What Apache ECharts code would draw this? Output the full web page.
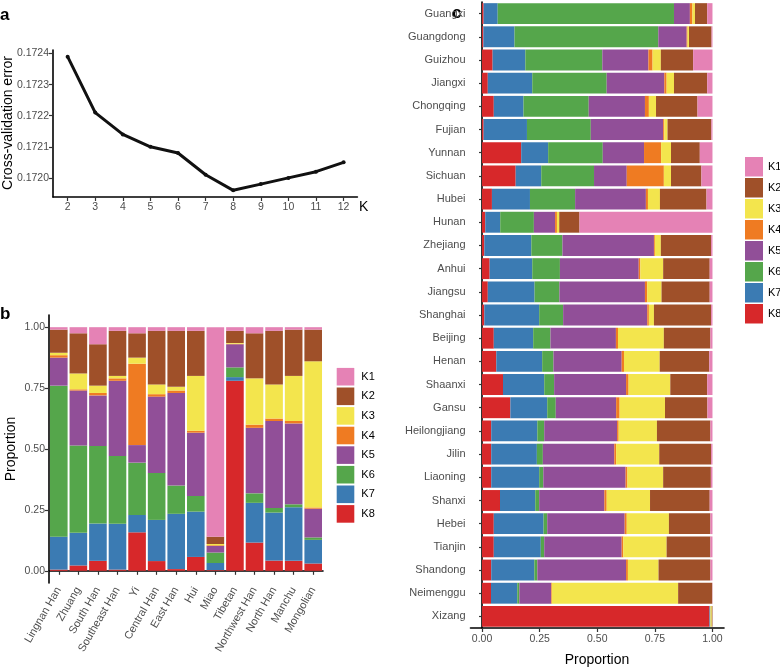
<!DOCTYPE html>
<html><head><meta charset="utf-8">
<script src="https://cdn.jsdelivr.net/npm/echarts@6/dist/echarts.min.js"></script>
<style>html,body{margin:0;padding:0;background:#fff}#c{width:780px;height:668px}</style>
</head><body><div id="c"></div>
<script>
// ---- Panel a data ----
const kValues = [2, 3, 4, 5, 6, 7, 8, 9, 10, 11, 12];
const cvError = [0.17239, 0.17221, 0.17214, 0.17210, 0.17208, 0.17201, 0.17196, 0.17198, 0.17200, 0.17202, 0.17205];
const aYTicks = [0.1720, 0.1721, 0.1722, 0.1723, 0.1724];
const aXTicks = [2, 3, 4, 5, 6, 7, 8, 9, 10, 11, 12];

// ---- Panel b data ----
const groupsB = ['Lingnan Han', 'Zhuang', 'South Han', 'Southeast Han', 'Yi', 'Central Han', 'East Han', 'Hui', 'Miao', 'Tibetan', 'Northwest Han', 'North Han', 'Manchu', 'Mongolian'];
const bK8 = [0.005, 0.022, 0.041, 0.005, 0.158, 0.040, 0.007, 0.057, 0.003, 0.780, 0.116, 0.042, 0.041, 0.030];
const bK7 = [0.135, 0.134, 0.153, 0.188, 0.071, 0.169, 0.227, 0.186, 0.029, 0.015, 0.163, 0.197, 0.220, 0.097];
const bK6 = [0.620, 0.358, 0.318, 0.278, 0.215, 0.193, 0.116, 0.064, 0.043, 0.040, 0.039, 0.019, 0.012, 0.010];
const bK5 = [0.115, 0.226, 0.208, 0.309, 0.072, 0.313, 0.380, 0.260, 0.027, 0.095, 0.269, 0.357, 0.332, 0.118];
const bK4 = [0.010, 0.005, 0.010, 0.010, 0.334, 0.010, 0.010, 0.008, 0.003, 0.002, 0.013, 0.010, 0.010, 0.005];
const bK3 = [0.010, 0.065, 0.030, 0.010, 0.025, 0.040, 0.015, 0.225, 0.005, 0.003, 0.190, 0.140, 0.185, 0.600];
const bK2 = [0.095, 0.165, 0.170, 0.185, 0.100, 0.220, 0.230, 0.185, 0.030, 0.050, 0.185, 0.220, 0.190, 0.130];
const bK1 = [0.010, 0.025, 0.070, 0.015, 0.025, 0.015, 0.015, 0.015, 0.860, 0.015, 0.025, 0.015, 0.010, 0.010];

// ---- Panel c data ----
const provincesC = ['Guangxi', 'Guangdong', 'Guizhou', 'Jiangxi', 'Chongqing', 'Fujian', 'Yunnan', 'Sichuan', 'Hubei', 'Hunan', 'Zhejiang', 'Anhui', 'Jiangsu', 'Shanghai', 'Beijing', 'Henan', 'Shaanxi', 'Gansu', 'Heilongjiang', 'Jilin', 'Liaoning', 'Shanxi', 'Hebei', 'Tianjin', 'Shandong', 'Neimenggu', 'Xizang'];
const cK8 = [0.007, 0.006, 0.046, 0.025, 0.051, 0.007, 0.170, 0.146, 0.043, 0.014, 0.010, 0.033, 0.025, 0.010, 0.051, 0.062, 0.091, 0.123, 0.040, 0.040, 0.040, 0.078, 0.051, 0.051, 0.040, 0.039, 0.987];
const cK7 = [0.061, 0.135, 0.142, 0.193, 0.129, 0.188, 0.117, 0.111, 0.165, 0.065, 0.204, 0.185, 0.203, 0.238, 0.171, 0.199, 0.179, 0.160, 0.200, 0.198, 0.208, 0.153, 0.216, 0.204, 0.187, 0.114, 0.004];
const cK6 = [0.765, 0.624, 0.334, 0.323, 0.283, 0.277, 0.237, 0.229, 0.196, 0.146, 0.135, 0.120, 0.108, 0.104, 0.075, 0.049, 0.043, 0.037, 0.030, 0.026, 0.018, 0.017, 0.016, 0.015, 0.013, 0.009, 0];
const cK5 = [0.069, 0.123, 0.200, 0.250, 0.244, 0.314, 0.179, 0.142, 0.307, 0.092, 0.397, 0.342, 0.371, 0.365, 0.284, 0.296, 0.312, 0.262, 0.316, 0.310, 0.357, 0.283, 0.336, 0.336, 0.385, 0.138, 0];
const cK4 = [0.011, 0.004, 0.018, 0.010, 0.017, 0.005, 0.074, 0.161, 0.009, 0.008, 0.004, 0.007, 0.010, 0.007, 0.009, 0.010, 0.011, 0.015, 0.007, 0.008, 0.008, 0.010, 0.009, 0.007, 0.008, 0.003, 0];
const cK3 = [0.011, 0.006, 0.036, 0.032, 0.031, 0.014, 0.043, 0.031, 0.052, 0.010, 0.026, 0.099, 0.062, 0.022, 0.199, 0.155, 0.181, 0.197, 0.166, 0.187, 0.155, 0.188, 0.183, 0.188, 0.133, 0.548, 0.006];
const cK2 = [0.053, 0.098, 0.140, 0.144, 0.180, 0.190, 0.125, 0.132, 0.202, 0.088, 0.218, 0.202, 0.209, 0.248, 0.202, 0.215, 0.160, 0.184, 0.232, 0.225, 0.207, 0.259, 0.180, 0.190, 0.225, 0.148, 0.003];
const cK1 = [0.023, 0.004, 0.084, 0.023, 0.065, 0.005, 0.055, 0.048, 0.026, 0.577, 0.006, 0.012, 0.012, 0.006, 0.009, 0.014, 0.023, 0.022, 0.009, 0.006, 0.007, 0.012, 0.009, 0.009, 0.009, 0.001, 0];

const propTicks = [0, 0.25, 0.5, 0.75, 1];
const kNames = ['K1', 'K2', 'K3', 'K4', 'K5', 'K6', 'K7', 'K8'];
const kColors = {K1: '#e582b5', K2: '#9f5029', K3: '#f3e54d', K4: '#ef7b22', K5: '#914f98', K6: '#55a64b', K7: '#3b7bb3', K8: '#d7282a'};
const bByK = {K1: bK1, K2: bK2, K3: bK3, K4: bK4, K5: bK5, K6: bK6, K7: bK7, K8: bK8};
const cByK = {K1: cK1, K2: cK2, K3: cK3, K4: cK4, K5: cK5, K6: cK6, K7: cK7, K8: cK8};

const FONT = 'Liberation Sans, Arial, Helvetica, sans-serif';
const tickGrey = '#4d4d4d';
const axisLine = {show: true, lineStyle: {color: '#000', width: 1.6}};
const axisTick = (vals) => ({show: true, length: 4, lineStyle: {color: '#333', width: 1.2}, customValues: vals});

const chart = echarts.init(document.getElementById('c'), null, {renderer: 'canvas'});

const series = [];
series.push({
  type: 'line', xAxisIndex: 0, yAxisIndex: 0,
  data: kValues.map((k, i) => [k, cvError[i]]),
  lineStyle: {color: '#111', width: 3},
  itemStyle: {color: '#111'},
  symbol: 'circle', symbolSize: 4, showSymbol: true,
  silent: true
});
const stackOrder = ['K8', 'K7', 'K6', 'K5', 'K4', 'K3', 'K2', 'K1'];
stackOrder.forEach(k => {
  series.push({
    name: k, type: 'bar', stack: 'b', xAxisIndex: 1, yAxisIndex: 1,
    data: bByK[k], barCategoryGap: '10%',
    itemStyle: {color: kColors[k]}
  });
});
stackOrder.forEach(k => {
  series.push({
    name: k, type: 'bar', stack: 'c', xAxisIndex: 2, yAxisIndex: 2,
    data: cByK[k], barCategoryGap: '10%',
    itemStyle: {color: kColors[k]}
  });
});

const option = {
  animation: false,
  backgroundColor: '#fff',
  textStyle: {fontFamily: FONT},
  grid: [
    {left: 53, top: 50, width: 304.4, height: 147},
    {left: 49, top: 315, width: 274, height: 268},
    {left: 470.5, top: 2, width: 253.5, height: 626}
  ],
  xAxis: [
    {gridIndex: 0, type: 'value', min: 1.47, max: 12.5, splitLine: {show: false},
      axisLine: axisLine, axisTick: axisTick(aXTicks),
      axisLabel: {customValues: aXTicks, color: tickGrey, fontSize: 10.5, margin: 5, fontFamily: FONT}},
    {gridIndex: 1, type: 'category', data: groupsB,
      axisLine: axisLine, axisTick: {show: true, alignWithLabel: true, length: 4, lineStyle: {color: '#333', width: 1.2}},
      axisLabel: {interval: 0, rotate: 60, color: tickGrey, fontSize: 11, margin: 5, fontFamily: FONT}},
    {gridIndex: 2, type: 'value', min: -0.05, max: 1.05, splitLine: {show: false},
      axisLine: axisLine, axisTick: axisTick(propTicks),
      axisLabel: {customValues: propTicks, color: tickGrey, fontSize: 10.5, margin: 6, fontFamily: FONT,
        formatter: v => v.toFixed(2)}}
  ],
  yAxis: [
    {gridIndex: 0, type: 'value', min: 0.1719385, max: 0.1724115, splitLine: {show: false},
      axisLine: axisLine, axisTick: axisTick(aYTicks),
      axisLabel: {customValues: aYTicks, color: tickGrey, fontSize: 10.5, margin: 4, fontFamily: FONT,
        formatter: v => v.toFixed(4)}},
    {gridIndex: 1, type: 'value', min: -0.05, max: 1.05, splitLine: {show: false},
      axisLine: axisLine, axisTick: axisTick(propTicks),
      axisLabel: {customValues: propTicks, color: tickGrey, fontSize: 10.5, margin: 4, fontFamily: FONT,
        formatter: v => v.toFixed(2)}},
    {gridIndex: 2, type: 'category', data: provincesC, inverse: true,
      axisLine: axisLine, axisTick: {show: true, alignWithLabel: true, length: 3, lineStyle: {color: '#333', width: 1.2}},
      axisLabel: {interval: 0, color: tickGrey, fontSize: 11, margin: 5, fontFamily: FONT}}
  ],
  legend: [
    {data: kNames, orient: 'vertical', left: 331.7, top: 362.9, itemWidth: 17.6, itemHeight: 17.6, itemGap: 2,
      icon: 'rect', selectedMode: false, textStyle: {fontSize: 11, color: '#000', fontFamily: FONT, padding: [0, 0, 0, 2]}},
    {data: kNames, orient: 'vertical', left: 740, top: 152, itemWidth: 18, itemHeight: 19.5, itemGap: 1.5,
      icon: 'rect', selectedMode: false, textStyle: {fontSize: 11, color: '#000', fontFamily: FONT, padding: [0, 0, 0, 0]}}
  ],
  graphic: [
    {type: 'text', left: 0, top: 7, style: {text: 'a', font: 'bold 17px ' + FONT, fill: '#000'}},
    {type: 'text', left: 0, top: 306, style: {text: 'b', font: 'bold 17px ' + FONT, fill: '#000'}},
    {type: 'text', left: 452, top: 5, style: {text: 'c', font: 'bold 17px ' + FONT, fill: '#000'}},
    {type: 'text', x: 359, y: 207, style: {text: 'K', font: '14px ' + FONT, fill: '#000', textVerticalAlign: 'middle'}},
    {type: 'text', x: 8, y: 123, rotation: Math.PI / 2, style: {text: 'Cross-validation error', font: '14px ' + FONT, fill: '#000', textAlign: 'center', textVerticalAlign: 'middle'}},
    {type: 'text', x: 11, y: 449, rotation: Math.PI / 2, style: {text: 'Proportion', font: '14px ' + FONT, fill: '#000', textAlign: 'center', textVerticalAlign: 'middle'}},
    {type: 'text', x: 597, y: 660, style: {text: 'Proportion', font: '14px ' + FONT, fill: '#000', textAlign: 'center', textVerticalAlign: 'middle'}}
  ],
  series: series
};
chart.setOption(option);
</script>
</body></html>
